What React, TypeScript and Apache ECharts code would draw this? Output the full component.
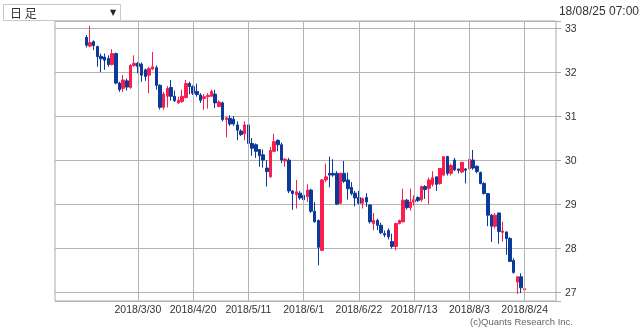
import React, { useEffect, useRef } from "react";
import * as echarts from "echarts";

// Daily candles, 2018/3/12 .. 2018/8/24 (weekdays)
const openPrices = [
  32.79, 32.59, 32.69, 32.58, 32.36, 32.34, 32.31, 32.17, 32.42, 31.75,
  31.63, 31.80, 31.65, 32.15, 32.20, 32.18, 32.05, 31.93, 32.07, 32.10,
  31.70, 31.20, 31.45, 31.65, 31.45, 31.30, 31.33, 31.42, 31.74, 31.67,
  31.56, 31.48, 31.40, 31.44, 31.45, 31.50, 31.22, 31.30, 30.92, 30.95,
  30.93, 30.80, 30.66, 30.60, 30.80, 30.38, 30.35, 30.24, 30.12, 29.82,
  29.62, 30.20, 30.45, 30.35, 29.98, 30.00, 29.30, 29.22, 29.25, 29.20,
  29.17, 29.32, 28.84, 28.63, 27.95, 29.55, 29.70, 29.70, 29.70, 29.02,
  29.70, 29.55, 29.38, 29.25, 29.15, 29.02, 29.15, 28.98, 28.56, 28.63,
  28.52, 28.33, 28.40, 28.15, 28.04, 28.56, 28.60, 29.09, 28.92, 29.05,
  29.15, 29.10, 29.40, 29.36, 29.45, 29.62, 29.47, 29.66, 30.08, 29.70,
  30.00, 29.80, 29.73, 29.80, 29.80, 30.00, 29.86, 29.72, 29.47, 29.24,
  28.75, 28.50, 28.80, 28.36, 28.37, 28.22, 27.72, 27.23, 27.35, 27.05,
];
const closePrices = [
  32.61, 32.67, 32.60, 32.35, 32.30, 32.27, 32.17, 32.42, 31.75, 31.60,
  31.82, 31.66, 32.15, 32.20, 32.13, 31.93, 31.90, 32.08, 32.12, 31.70,
  31.20, 31.50, 31.63, 31.45, 31.35, 31.36, 31.45, 31.74, 31.67, 31.52,
  31.49, 31.36, 31.44, 31.47, 31.56, 31.30, 31.32, 30.92, 30.96, 30.82,
  30.82, 30.68, 30.58, 30.80, 30.38, 30.27, 30.20, 30.10, 30.00, 29.74,
  30.22, 30.42, 30.35, 30.00, 30.02, 29.30, 29.24, 29.28, 29.14, 29.10,
  29.32, 28.84, 28.60, 28.02, 29.55, 29.62, 29.66, 29.66, 29.00, 29.70,
  29.52, 29.35, 29.24, 29.14, 29.02, 29.13, 29.05, 28.60, 28.63, 28.52,
  28.35, 28.30, 28.26, 28.04, 28.56, 28.63, 29.09, 28.92, 29.05, 29.10,
  29.08, 29.40, 29.33, 29.55, 29.60, 29.45, 29.81, 30.08, 29.70, 29.88,
  29.78, 29.77, 29.95, 29.77, 30.02, 29.82, 29.74, 29.47, 29.24, 28.75,
  28.50, 28.75, 28.38, 28.39, 28.22, 27.70, 27.45, 27.35, 27.10, 27.08,
];
const lowPrices = [
  32.56, 32.57, 32.50, 32.12, 32.00, 32.05, 32.12, 32.15, 31.72, 31.55,
  31.55, 31.58, 31.62, 32.12, 31.97, 31.78, 31.80, 31.52, 32.05, 31.60,
  31.15, 31.15, 31.20, 31.35, 31.32, 31.28, 31.30, 31.40, 31.50, 31.48,
  31.44, 31.30, 31.14, 31.17, 31.44, 31.18, 31.20, 30.88, 30.52, 30.78,
  30.78, 30.45, 30.55, 30.45, 30.32, 30.10, 30.05, 29.85, 29.83, 29.40,
  29.60, 30.18, 30.20, 29.93, 29.85, 29.25, 28.87, 28.90, 29.10, 29.05,
  29.05, 28.80, 28.58, 27.61, 27.93, 29.50, 29.38, 29.62, 28.98, 29.00,
  29.48, 29.10, 29.20, 28.95, 29.00, 28.90, 28.94, 28.56, 28.41, 28.41,
  28.32, 28.25, 28.20, 27.99, 27.95, 28.54, 28.58, 28.88, 28.85, 28.97,
  29.05, 29.05, 29.12, 29.00, 29.40, 29.30, 29.44, 29.63, 29.65, 29.65,
  29.75, 29.70, 29.70, 29.47, 29.78, 29.78, 29.70, 29.45, 29.22, 28.50,
  28.14, 28.45, 28.10, 28.15, 27.85, 27.69, 27.42, 26.96, 26.98, 26.85,
];
const highPrices = [
  32.84, 33.05, 32.72, 32.60, 32.42, 32.42, 32.38, 32.52, 32.44, 31.78,
  31.93, 31.85, 32.18, 32.38, 32.23, 32.22, 32.08, 32.12, 32.46, 32.15,
  31.72, 31.55, 31.68, 31.82, 31.58, 31.44, 31.60, 31.82, 31.78, 31.70,
  31.74, 31.52, 31.50, 31.52, 31.60, 31.60, 31.36, 31.33, 30.98, 31.02,
  31.00, 30.88, 30.70, 30.88, 30.85, 30.50, 30.38, 30.25, 30.24, 30.00,
  30.30, 30.60, 30.47, 30.40, 30.05, 30.05, 29.32, 29.55, 29.30, 29.22,
  29.45, 29.35, 29.05, 28.65, 29.57, 29.92, 30.08, 30.02, 29.75, 29.72,
  29.98, 29.72, 29.50, 29.30, 29.30, 29.15, 29.25, 29.00, 28.80, 28.67,
  28.58, 28.40, 28.45, 28.33, 28.58, 28.65, 29.35, 29.12, 29.35, 29.20,
  29.18, 29.42, 29.43, 29.60, 29.75, 29.62, 29.81, 30.08, 30.10, 29.92,
  30.05, 29.80, 29.96, 29.82, 30.05, 30.23, 29.88, 29.74, 29.50, 29.25,
  28.78, 28.80, 28.80, 28.60, 28.37, 28.25, 27.77, 27.36, 27.43, 27.35,
];

const tickLabels = [
  "2018/3/30", "2018/4/20", "2018/5/11", "2018/6/1",
  "2018/6/22", "2018/7/13", "2018/8/3", "2018/8/24",
];

const axisStart = [2018, 2, 28];
const axisEnd = [2018, 9, 5];
const tradeStart = [2018, 3, 12];
const tradeEnd = [2018, 8, 24];

function weekdays(s: number[], e: number[]): string[] {
  const out: string[] = [];
  const d = new Date(Date.UTC(s[0], s[1] - 1, s[2]));
  const end = new Date(Date.UTC(e[0], e[1] - 1, e[2]));
  while (d.getTime() <= end.getTime()) {
    const wd = d.getUTCDay();
    if (wd !== 0 && wd !== 6) {
      out.push(`${d.getUTCFullYear()}/${d.getUTCMonth() + 1}/${d.getUTCDate()}`);
    }
    d.setUTCDate(d.getUTCDate() + 1);
  }
  return out;
}

const categories = weekdays(axisStart, axisEnd);
const tradeDates = weekdays(tradeStart, tradeEnd);

const UP = "#fa1e4e";
const DOWN = "#0b3a9a";
const GRID = "#b4b4b4";

export default function App() {
  const ref = useRef<HTMLDivElement>(null);
  useEffect(() => {
    if (!ref.current) return;
    const chart = echarts.init(ref.current, undefined, { renderer: "svg" });
    const candles = tradeDates.map((d, i) => [
      d, openPrices[i], closePrices[i], lowPrices[i], highPrices[i],
    ]);
    chart.setOption({
      animation: false,
      textStyle: { fontFamily: "Liberation Sans" },
      grid: {
        left: 55, right: 84, top: 21, bottom: 29,
        show: true, borderColor: "#aaa", borderWidth: 1,
      },
      xAxis: {
        type: "category",
        data: categories,
        boundaryGap: true,
        axisLine: { show: false },
        axisTick: { show: false },
        splitLine: { show: false },
        axisLabel: {
          interval: (_i: number, v: string) => tickLabels.includes(v),
          fontSize: 10.5,
          color: "#333",
          margin: 2,
          fontFamily: "Liberation Sans",
        },
      },
      yAxis: {
        type: "value",
        position: "right",
        min: 26.8,
        max: 33.16,
        axisLine: { show: false },
        axisTick: { show: true, length: 5, lineStyle: { color: "#aaa" } },
        splitLine: { show: true, lineStyle: { color: GRID, width: 1 } },
        axisLabel: {
          formatter: (v: number) =>
            Math.abs(v - Math.round(v)) < 1e-6 ? String(Math.round(v)) : "",
          fontSize: 10.5,
          color: "#333",
          margin: 9,
          fontFamily: "Liberation Sans",
        },
      },
      series: [
        {
          type: "line",
          data: [],
          z: 1,
          silent: true,
          markLine: {
            silent: true,
            symbol: ["none", "none"],
            label: { show: false },
            emphasis: { disabled: true },
            lineStyle: { color: GRID, width: 1, type: "solid" },
            data: tickLabels.map((d) => ({ xAxis: d })),
          },
        },
        {
          type: "candlestick",
          z: 3,
          barWidth: 3,
          data: candles,
          encode: { x: 0, y: [1, 2, 3, 4] },
          itemStyle: {
            color: UP,
            color0: DOWN,
            borderColor: UP,
            borderColor0: DOWN,
            borderWidth: 1,
          },
        },
      ],
      graphic: [
        {
          type: "rect",
          shape: { x: 3.5, y: 4.5, width: 117, height: 16 },
          style: { fill: "#fff", stroke: "#c8c8c8", lineWidth: 1 },
        },
        {
          type: "text",
          x: 10,
          y: 12.5,
          style: {
            text: "日 足",
            fontSize: 12,
            fill: "#333",
            verticalAlign: "middle",
            fontFamily: "Noto Sans CJK JP",
          },
        },
        {
          type: "text",
          x: 113,
          y: 12.5,
          style: {
            text: "▼",
            fontSize: 8,
            fill: "#222",
            align: "center",
            verticalAlign: "middle",
            fontFamily: "DejaVu Sans",
          },
        },
        {
          type: "text",
          x: 639,
          y: 11,
          style: {
            text: "18/08/25 07:00",
            fontSize: 12,
            fill: "#333",
            align: "right",
            verticalAlign: "middle",
            fontFamily: "Liberation Sans",
          },
        },
        {
          type: "text",
          x: 573,
          y: 321,
          style: {
            text: "(c)Quants Research Inc.",
            fontSize: 9.5,
            fill: "#666",
            align: "right",
            verticalAlign: "middle",
            fontFamily: "Liberation Sans",
          },
        },
      ],
    });
    return () => chart.dispose();
  }, []);
  return (
    <div
      ref={ref}
      style={{ position: "fixed", left: 0, top: 0, width: 640, height: 330 }}
    />
  );
}
